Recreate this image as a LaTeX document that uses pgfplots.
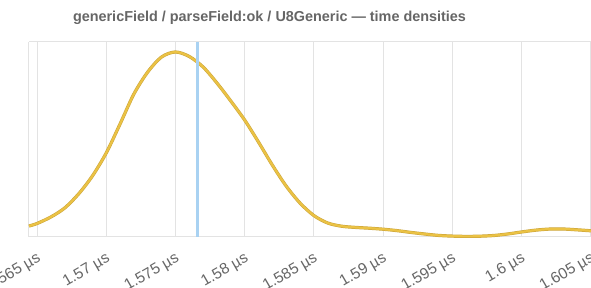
\documentclass[border=0pt]{standalone}
\usepackage{pgfplots}
\pgfplotsset{compat=1.18}
\usepackage{fontspec}
\setmainfont{Liberation Sans}
\definecolor{txtgray}{HTML}{666666}
\definecolor{gridgray}{HTML}{E3E3E3}
\definecolor{curve}{HTML}{EBC244}
\definecolor{curveedge}{HTML}{C9A33A}
\definecolor{meanblue}{HTML}{A9D2F2}
\pgfplotstableread{
x y
1564.42 11
1565 13.5
1566 20
1567 29
1568 43
1569 61
1570 84
1571 113
1572 143
1573 165
1574 180
1575 185
1576 180.5
1577 170
1578 154
1579 136
1580 117
1581 95
1582 72
1583 51
1584 34
1585 21.5
1586 14
1587 10.8
1588 9.6
1589 8.8
1590 7.8
1591 6.4
1592 4.6
1593 3
1594 1.6
1595 0.9
1596 0.6
1597 0.8
1598 1.5
1599 3
1600 5
1601 6.8
1602 7.9
1603 8
1604 7.2
1605.03 6.2
}\dens
\begin{document}
\begin{tikzpicture}
\begin{axis}[
  scale only axis,
  width=562pt, height=195pt,
  xmin=1564.42, xmax=1605.03,
  ymin=0, ymax=195,
  axis line style={gridgray, line width=1pt},
  axis x line*=bottom,
  axis y line=none,
  ytick=\empty,
  xtick={1565,1570,1575,1580,1585,1590,1595,1600,1605},
  xticklabels={1.565 µs,1.57 µs,1.575 µs,1.58 µs,1.585 µs,1.59 µs,1.595 µs,1.6 µs,1.605 µs},
  xmajorgrids,
  grid style={gridgray, line width=0.8pt},
  major tick length=0pt,
  xticklabel style={font=\fontsize{15.5}{18}\selectfont, color=txtgray, rotate=30, anchor=north east, inner sep=1pt, yshift=-11pt, xshift=-7pt},
  clip=false,
]
\draw[gridgray, line width=1pt] (axis cs:1564.42,195) -- (axis cs:1605.03,195);
\draw[gridgray, line width=1pt] (axis cs:1564.42,0) -- (axis cs:1564.42,195);
\addplot[curveedge, line width=3.2pt, smooth, tension=0.5] table {\dens};
\addplot[curve, line width=2.2pt, smooth, tension=0.5] table {\dens};
\addplot[meanblue, line width=2.6pt] coordinates {(1576.58,0) (1576.58,195)};
\end{axis}
\node[font=\bfseries\fontsize{14.4}{17}\selectfont, color=txtgray] at (240.5pt,219pt) {genericField / parseField:ok / U8Generic — time densities};
\pgfresetboundingbox
\useasboundingbox (-29pt,-51pt) rectangle (562pt,237pt);
\end{tikzpicture}
\end{document}
